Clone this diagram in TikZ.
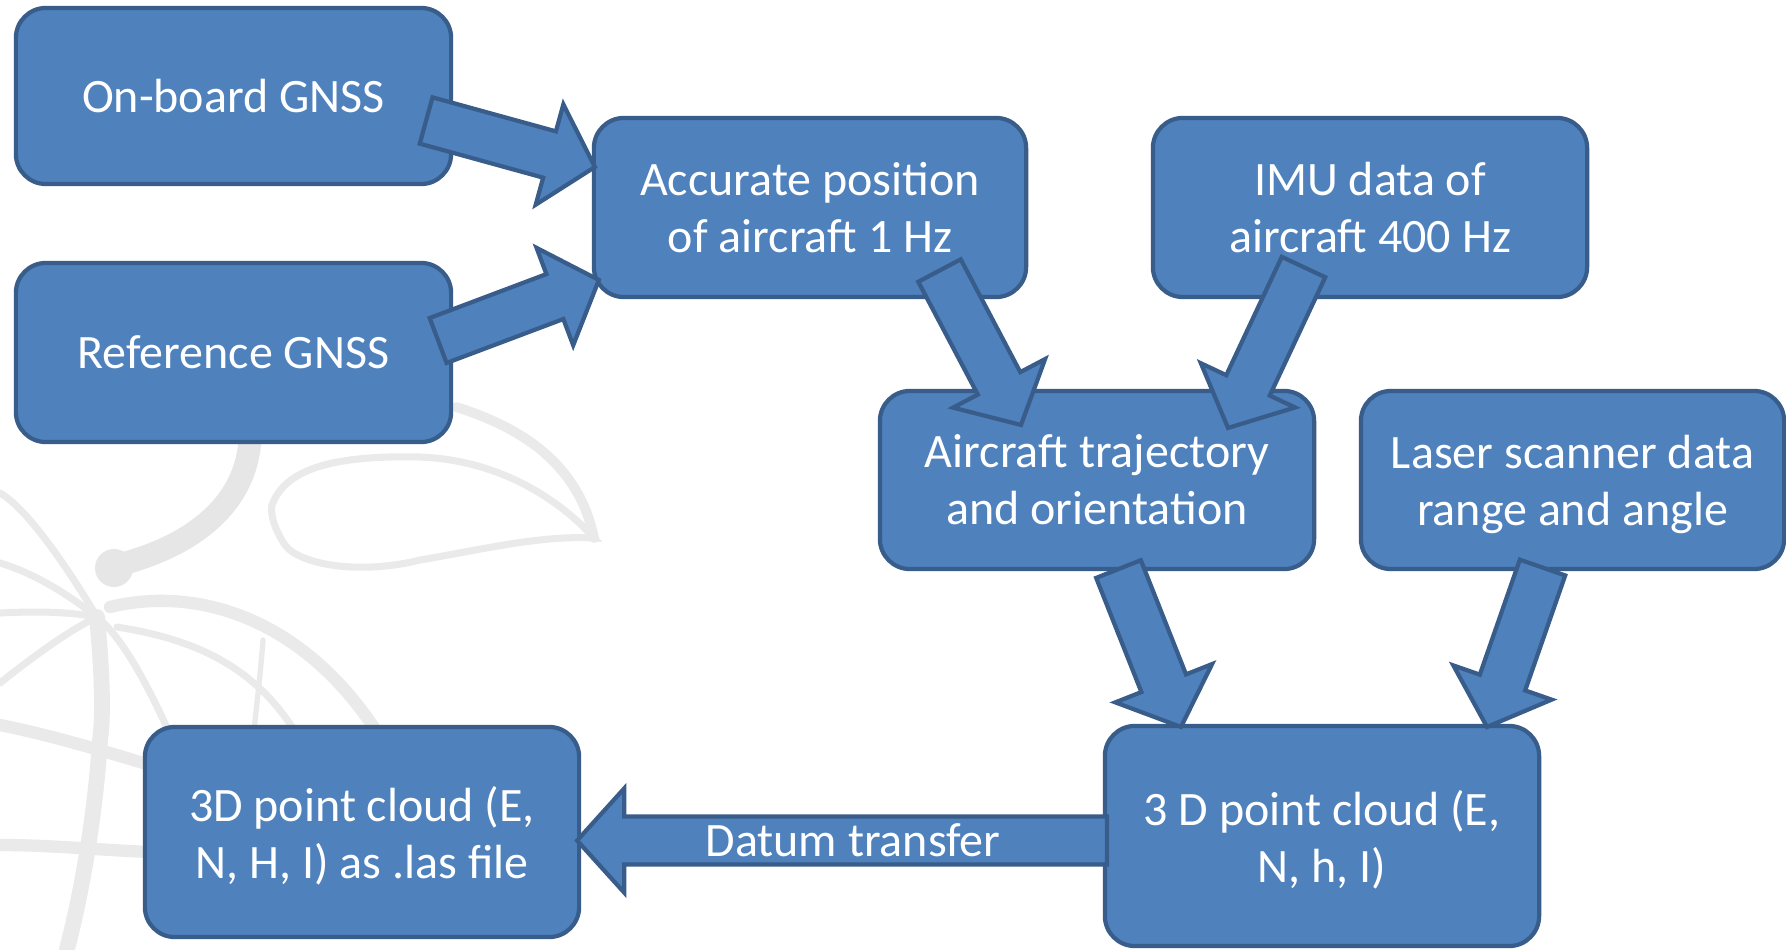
\documentclass[tikz,border=0pt]{standalone}
\usepackage{fontspec}
\setmainfont{Carlito}
\usetikzlibrary{calc}
\definecolor{boxfill}{HTML}{4F81BD}
\definecolor{boxline}{HTML}{385D8A}
\definecolor{wmgray}{HTML}{EAEAEA}
\definecolor{wmdark}{HTML}{E6E6E6}

% last line of a label, without its descender depth
\newcommand\flatline[1]{\raisebox{0pt}[\height][0pt]{#1}}

% block arrow from tail point #1 to tip point #2
\newcommand\blockarrow[2]{%
  \path ($(#2)!0.47cm!(#1)$) coordinate (ba-h);
  \draw[flowarrow] ($(#1)!0.24cm!90:(#2)$) -- ($(ba-h)!0.24cm!90:(#2)$)
    -- ($(ba-h)!0.52cm!90:(#2)$) -- (#2) -- ($(ba-h)!0.52cm!-90:(#2)$)
    -- ($(ba-h)!0.24cm!-90:(#2)$) -- ($(#1)!0.24cm!-90:(#2)$) -- cycle;
}

\begin{document}
\begin{tikzpicture}[x=0.01cm, y=-0.01cm,
  box/.style={draw=boxline, fill=boxfill, line width=1.2pt, rounded corners=0.3cm,
    text=white, align=center, inner sep=0pt, outer sep=0pt,
    font=\fontsize{13.65}{16.2}\selectfont},
  flowarrow/.style={draw=boxline, fill=boxfill, line width=1.2pt, line join=miter},
  wm/.style={draw=wmgray, line width=2pt, line cap=round}]

\useasboundingbox (0,0) rectangle (1786,949);
\fill[white] (0,0) rectangle (1786,949);
\clip (0,0) rectangle (1786,949);

% faint logo in the background: swoosh
\draw[wm, draw=wmdark, line width=6.5pt] (250,440) .. controls (245,510) and (185,548) .. (118,565);
\fill[wmdark] (114,568) circle (19);
% leaf
\draw[wm, line width=2.8pt] (456,407) .. controls (530,430) and (580,470) .. (594,538);
\draw[wm] (272,505) .. controls (285,470) and (330,455) .. (420,457)
  .. controls (500,460) and (560,500) .. (594,538)
  .. controls (540,535) and (480,550) .. (420,560)
  .. controls (360,575) and (300,565) .. (285,545)
  .. controls (275,530) and (270,515) .. (272,505);
% globe meridians from the pole
\draw[wm] (0,493) .. controls (30,510) and (75,580) .. (97,617);
\draw[wm] (0,563) .. controls (40,575) and (75,600) .. (97,617);
\draw[wm] (0,613) .. controls (40,611) and (70,612) .. (97,617);
\draw[wm] (0,683) .. controls (35,655) and (70,630) .. (97,617);
\draw[wm, line width=4.5pt] (97,617) .. controls (103,680) and (103,720) .. (100,740)
  .. controls (95,820) and (80,900) .. (67,949);
\draw[wm] (97,617) .. controls (125,640) and (150,690) .. (175,745);
% globe rings
\draw[wm, line width=3.5pt] (110,607) .. controls (200,585) and (310,620) .. (385,745);
\draw[wm] (117,627) .. controls (200,640) and (260,670) .. (300,740);
\draw[wm, line width=1.5pt] (263,640) .. controls (260,680) and (256,710) .. (253,740);
\draw[wm, line width=3.5pt] (0,725) .. controls (50,735) and (100,750) .. (150,765);
\draw[wm, line width=3.5pt] (0,845) .. controls (50,845) and (100,850) .. (150,852);

% process boxes
\node[box, minimum width=4.35cm, minimum height=1.76cm] (onboard) at (233.5,96) {On-board GNSS};
\node[box, minimum width=4.35cm, minimum height=1.79cm] (reference) at (233.5,352.5) {Reference GNSS};
\node[box, minimum width=4.32cm, minimum height=1.79cm] (accurate) at (810,207.5) {Accurate position\\of aircraft 1 Hz};
\node[box, minimum width=4.34cm, minimum height=1.79cm] (imu) at (1370,207.5) {IMU data of\\aircraft 400 Hz};
\node[box, minimum width=4.34cm, minimum height=1.78cm] (traj) at (1097,480) {Aircraft trajectory\\and orientation};
\node[box, minimum width=4.23cm, minimum height=1.78cm] (laser) at (1572.5,480) {Laser scanner data\\\flatline{range and angle}};
\node[box, minimum width=4.34cm, minimum height=2.20cm] (cloud) at (1322,836) {3 D point cloud (E,\\\flatline{N, h, I)}};
\node[box, minimum width=4.34cm, minimum height=2.10cm] (las) at (362,832) {3D point cloud (E,\\\flatline{N, H, I) as .las file}};

% arrow end points
\coordinate (a1s) at ($(onboard.east)+(-25,24.5)$);
\coordinate (a1e) at ($(accurate.west)+(1,-40.5)$);
\coordinate (a2s) at ($(reference.east)+(-13,-12)$);
\coordinate (a2e) at ($(accurate.west)+(5,72.5)$);
\coordinate (a3s) at ($(accurate.south)+(129.5,-26.5)$);
\coordinate (a3e) at ($(traj.north)+(-76,34)$);
\coordinate (a4s) at ($(imu.south)+(-66.5,-30)$);
\coordinate (a4e) at ($(traj.north)+(131,37)$);
\coordinate (a5s) at ($(traj.south)+(21.5,0)$);
\coordinate (a5e) at ($(cloud.north)+(-141,1)$);
\coordinate (a6s) at ($(laser.south)+(-30,-1.5)$);
\coordinate (a6e) at ($(cloud.north)+(165,1)$);
\coordinate (a7s) at ($(cloud.west)+(2,4.5)$);
\coordinate (a7e) at ($(las.east)+(-2,8.5)$);

\blockarrow{a1s}{a1e}
\blockarrow{a2s}{a2e}
\blockarrow{a3s}{a3e}
\blockarrow{a4s}{a4e}
\blockarrow{a5s}{a5e}
\blockarrow{a6s}{a6e}
\blockarrow{a7s}{a7e}

\node[text=white, font=\fontsize{13.65}{16.2}\selectfont, inner sep=0pt] (datum) at (853,840) {Datum transfer};
\end{tikzpicture}
\end{document}
